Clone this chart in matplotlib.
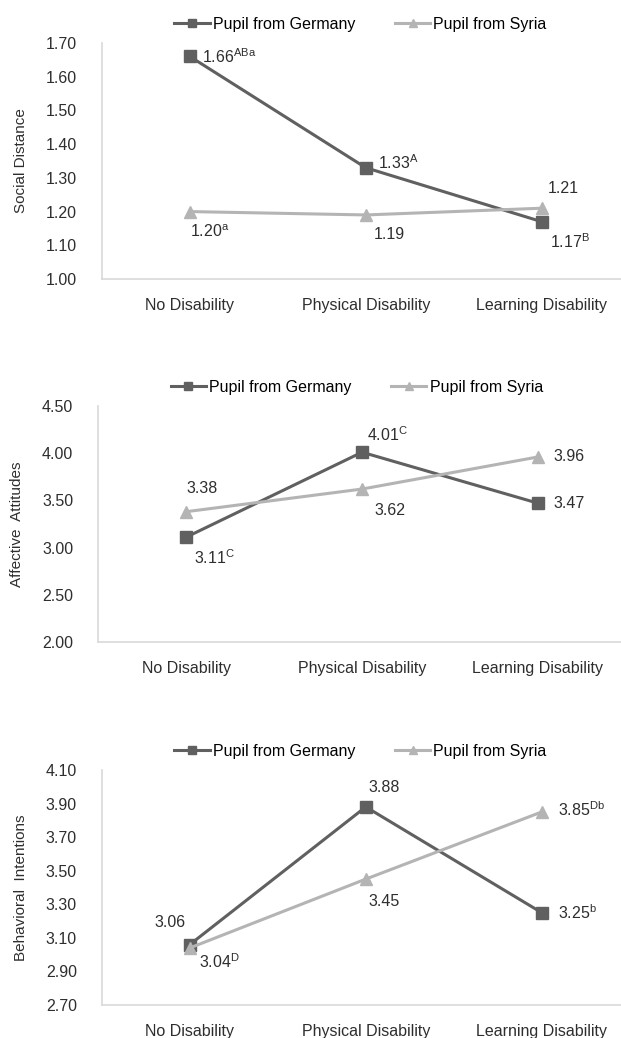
import matplotlib
matplotlib.use('Agg')
import matplotlib.pyplot as plt

plt.rcParams['font.family'] = ['Liberation Sans', 'DejaVu Sans']
plt.rcParams['mathtext.fontset'] = 'custom'
plt.rcParams['mathtext.rm'] = 'Liberation Sans'

categories = ['No Disability', 'Physical Disability', 'Learning Disability']
series_names = ['Pupil from Germany', 'Pupil from Syria']

# Social distance
sd_germany = [1.66, 1.33, 1.17]
sd_syria = [1.20, 1.19, 1.21]
sd_germany_sup = ['ABa', 'A', 'B']
sd_syria_sup = ['a', '', '']

# Affective attitudes
aa_germany = [3.11, 4.01, 3.47]
aa_syria = [3.38, 3.62, 3.96]
aa_germany_sup = ['C', 'C', '']
aa_syria_sup = ['', '', '']

# Behavioral intentions
bi_germany = [3.06, 3.88, 3.25]
bi_syria = [3.04, 3.45, 3.85]
bi_germany_sup = ['', '', 'b']
bi_syria_sup = ['D', '', 'Db']

dark = '#606060'
light = '#b4b4b4'
txt = '#2e2e2e'


def label(v, sup):
    s = '%.2f' % v
    if sup:
        s += r'$^{\mathrm{%s}}$' % sup
    return s


def panel(fig, rect, germany, syria, gsup, ssup, ylim, step, ylab,
          goff, soff):
    ax = fig.add_axes(rect)
    x = [0.5, 1.5, 2.5]
    ax.plot(x, germany, color=dark, lw=2.2, marker='s', ms=8,
            label=series_names[0])
    ax.plot(x, syria, color=light, lw=2.2, marker='^', ms=8,
            label=series_names[1])
    for xi, v, s, (dx, dy, ha) in zip(x, germany, gsup, goff):
        ax.annotate(label(v, s), (xi, v), xytext=(dx, dy),
                    textcoords='offset pixels', ha=ha, va='center',
                    fontsize=11.5, color=txt)
    for xi, v, s, (dx, dy, ha) in zip(x, syria, ssup, soff):
        ax.annotate(label(v, s), (xi, v), xytext=(dx, dy),
                    textcoords='offset pixels', ha=ha, va='center',
                    fontsize=11.5, color=txt)
    ax.set_xlim(0, 3)
    ax.set_ylim(*ylim)
    n = int(round((ylim[1] - ylim[0]) / step))
    ticks = [ylim[0] + i * step for i in range(n + 1)]
    ax.set_yticks(ticks)
    ax.set_yticklabels(['%.2f' % t for t in ticks])
    ax.set_xticks(x)
    ax.set_xticklabels(categories)
    ax.tick_params(length=0, labelsize=11.5, colors=txt)
    ax.tick_params(axis='y', pad=18)
    ax.tick_params(axis='x', pad=14)
    for side in ['top', 'right']:
        ax.spines[side].set_visible(False)
    for side in ['left', 'bottom']:
        ax.spines[side].set_color('#d9d9d9')
        ax.spines[side].set_linewidth(1.2)
    ax.set_ylabel(ylab, fontsize=11, color=txt)
    ax.yaxis.set_label_coords(-0.14, 0.5)
    ax.legend(loc='lower center', bbox_to_anchor=(0.49, 1.0), ncol=2,
              frameon=False, fontsize=11.5, handlelength=2.2,
              handletextpad=0.2, columnspacing=2.5, borderaxespad=0.3,
              markerscale=0.75)
    return ax


fig = plt.figure(figsize=(6.21, 10.38), dpi=100)

panel(fig, [0.164, 0.7312, 0.850, 0.2274], sd_germany, sd_syria,
      sd_germany_sup, sd_syria_sup, (1.0, 1.7), 0.1, 'Social Distance',
      [(12, 0, 'left'), (12, 5, 'left'), (8, -20, 'left')],
      [(0, -20, 'left'), (8, -20, 'left'), (6, 20, 'left')])

panel(fig, [0.158, 0.3815, 0.850, 0.2274], aa_germany, aa_syria,
      aa_germany_sup, aa_syria_sup, (2.0, 4.5), 0.5, 'Affective  Attitudes',
      [(8, -20, 'left'), (5, 18, 'left'), (15, 0, 'left')],
      [(0, 23, 'left'), (12, -21, 'left'), (15, 0, 'left')])

panel(fig, [0.164, 0.0318, 0.850, 0.2264], bi_germany, bi_syria,
      bi_germany_sup, bi_syria_sup, (2.7, 4.1), 0.2, 'Behavioral  Intentions',
      [(-4, 22, 'right'), (3, 19, 'left'), (16, 0, 'left')],
      [(9, -14, 'left'), (3, -22, 'left'), (16, 2, 'left')])

fig.savefig('out.png', dpi=100)
